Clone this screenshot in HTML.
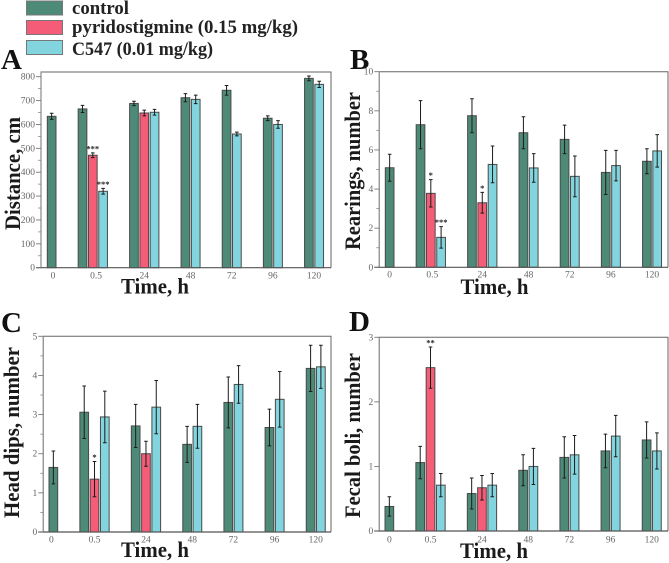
<!DOCTYPE html>
<html lang="en">
<head>
<meta charset="utf-8">
<title>Behavioural measures over time</title>
<style>
html,body{margin:0;padding:0;background:#fff;}
body{width:669px;height:563px;overflow:hidden;}
svg{display:block;}
text{font-family:"Liberation Serif",serif;}
.tick-label{font-size:9.5px;fill:#666;}
.axis-title{font-size:22.5px;font-weight:bold;fill:#1a1a1a;}
.panel-letter{font-size:29px;font-weight:bold;fill:#111;}
.legend-label{font-size:18.5px;font-weight:bold;fill:#222;}
.star{font-size:8.5px;font-weight:bold;fill:#222;}
</style>
</head>
<body>
<svg id="figure" xmlns="http://www.w3.org/2000/svg" width="669" height="563" viewBox="0 0 669 563">
  <g>
    <rect x="26.5" y="1" width="36" height="14" fill="#4e8a78" stroke="#777" stroke-width="1"/>
    <text class="legend-label" x="72" y="14" textLength="57" lengthAdjust="spacingAndGlyphs">control</text>
    <rect x="26.5" y="20.5" width="36" height="14" fill="#f45c77" stroke="#777" stroke-width="1"/>
    <text class="legend-label" x="72" y="33" textLength="226" lengthAdjust="spacingAndGlyphs">pyridostigmine (0.15 mg/kg)</text>
    <rect x="26.5" y="40.5" width="36" height="14" fill="#82d5de" stroke="#777" stroke-width="1"/>
    <text class="legend-label" x="72" y="55" textLength="141" lengthAdjust="spacingAndGlyphs">C547 (0.01 mg/kg)</text>
  </g>
</svg>
<script>
const categories = ["0", "0.5", "24", "48", "72", "96", "120"];

const distanceTicks = [0, 100, 200, 300, 400, 500, 600, 700, 800];
const distanceControl = [634, 665, 688, 712, 743, 626, 793];
const distanceControlErr = [13, 15, 9, 17, 20, 10, 10];
const distancePyridostigmine = [null, 471, 648, null, null, null, null];
const distancePyridostigmineErr = [null, 10, 12, null, null, null, null];
const distanceC547 = [null, 320, 651, 705, 560, 600, 768];
const distanceC547Err = [null, 12, 12, 18, 8, 16, 13];
const distancePyridostigmineStars = ["", "***", "", "", "", "", ""];
const distanceC547Stars = ["", "***", "", "", "", "", ""];

const rearingsTicks = [0, 2, 4, 6, 8, 10];
const rearingsControl = [5.09, 7.29, 7.75, 6.88, 6.54, 4.85, 5.42];
const rearingsControlErr = [0.69, 1.23, 0.87, 0.82, 0.73, 1.13, 0.64];
const rearingsPyridostigmine = [null, 3.78, 3.3, null, null, null, null];
const rearingsPyridostigmineErr = [null, 0.7, 0.53, null, null, null, null];
const rearingsC547 = [null, 1.53, 5.26, 5.08, 4.65, 5.2, 5.95];
const rearingsC547Err = [null, 0.55, 0.94, 0.73, 1.04, 0.78, 0.83];
const rearingsPyridostigmineStars = ["", "*", "*", "", "", "", ""];
const rearingsC547Stars = ["", "***", "", "", "", "", ""];

const headDipsTicks = [0, 1, 2, 3, 4, 5];
const headDipsControl = [1.65, 3.06, 2.71, 2.24, 3.31, 2.67, 4.18];
const headDipsControlErr = [0.42, 0.67, 0.55, 0.46, 0.65, 0.47, 0.59];
const headDipsPyridostigmine = [null, 1.35, 2.0, null, null, null, null];
const headDipsPyridostigmineErr = [null, 0.45, 0.32, null, null, null, null];
const headDipsC547 = [null, 2.94, 3.19, 2.7, 3.77, 3.39, 4.22];
const headDipsC547Err = [null, 0.66, 0.68, 0.56, 0.48, 0.71, 0.55];
const headDipsPyridostigmineStars = ["", "*", "", "", "", "", ""];
const headDipsC547Stars = ["", "", "", "", "", "", ""];

const fecalBoliTicks = [0, 1, 2, 3];
const fecalBoliControl = [0.38, 1.06, 0.58, 0.94, 1.14, 1.24, 1.41];
const fecalBoliControlErr = [0.15, 0.25, 0.24, 0.24, 0.32, 0.26, 0.28];
const fecalBoliPyridostigmine = [null, 2.53, 0.67, null, null, null, null];
const fecalBoliPyridostigmineErr = [null, 0.32, 0.19, null, null, null, null];
const fecalBoliC547 = [null, 0.71, 0.71, 1.0, 1.18, 1.47, 1.24];
const fecalBoliC547Err = [null, 0.18, 0.18, 0.28, 0.3, 0.32, 0.28];
const fecalBoliPyridostigmineStars = ["", "**", "", "", "", "", ""];
const fecalBoliC547Stars = ["", "", "", "", "", "", ""];

const SVG_NS = "http://www.w3.org/2000/svg";
const figure = document.getElementById("figure");
const SLOT = 10.29;
const BAR_W = 8.7;
const COLORS = { control: "#4e8a78", pyridostigmine: "#f45c77", c547: "#82d5de" };

function make(tag, parent, attrs, content) {
  const el = document.createElementNS(SVG_NS, tag);
  for (const k in attrs) el.setAttribute(k, attrs[k]);
  if (content !== undefined) el.textContent = content;
  parent.appendChild(el);
  return el;
}

function labelNudge(key, i) {
  if (key === "distance" && i === 0) return 1.3;
  if (key === "distance" && i === 1) return 3.3;
  if (key === "head-dips" && i === 0) return -2;
  if (key === "rearings" && i === 1) return 1.5;
  return 0;
}

function drawPanel(p) {
  const g = make("g", figure, {});
  
  

  const maxV = p.ticks[p.ticks.length - 1];
  const yScale = function (v) { return p.y0 - (v / maxV) * (p.y0 - p.yMaxPx); };

  let slot = 0;
  categories.forEach(function (cat, i) {
    const present = p.series.filter(function (s) { return s.values[i] !== null; });
    present.forEach(function (s, j) {
      const x = p.originX + (slot + j) * SLOT;
      const cx = x + BAR_W / 2;
      const top = yScale(s.values[i]);
      const bar = make("rect", g, { x: x, y: top, width: BAR_W, height: p.y0 - top, fill: COLORS[s.kind], stroke: "#4a4a4a", "stroke-width": 1 });
      
      

      const hi = yScale(s.values[i] + s.err[i]);
      const lo = yScale(s.values[i] - s.err[i]);
      const eb = make("path", g, { d: "M" + (cx - 1.8) + " " + hi + "H" + (cx + 1.8) + "M" + cx + " " + hi + "V" + lo + "M" + (cx - 1.8) + " " + lo + "H" + (cx + 1.8), fill: "none", stroke: "#1c1c1c", "stroke-width": 1 });
      
      

      if (s.stars[i]) {
        const st = make("text", g, { x: cx, y: hi - 1.5, "text-anchor": "middle", "class": "star" }, s.stars[i]);
        
        
      }
    });
    const groupCenter = p.originX + (slot + present.length / 2) * SLOT - (SLOT - BAR_W) / 2;
    const lab = make("text", g, { x: groupCenter + labelNudge(p.key, i), y: p.xLabelY, "text-anchor": "middle", "class": "tick-label" }, cat);
    
    
    slot += present.length + 2;
  });

  const frame = make("path", g, { d: "M" + p.left + " " + p.y0 + "V" + p.top + "H" + p.right + "V" + p.y0, fill: "none", stroke: "#666", "stroke-width": 1 });
  
  
  const leftAxis = make("line", g, { x1: p.left, x2: p.left, y1: p.top, y2: p.y0, stroke: "#999", "stroke-width": 1.4 });
  
  
  const baseAxis = make("line", g, { x1: p.left - 5, x2: p.right, y1: p.y0, y2: p.y0, stroke: "#555", "stroke-width": 1.2 });
  
  

  p.ticks.forEach(function (t, i) {
    const y = yScale(t);
    const tk = make("line", g, { x1: p.left - 5, x2: p.left, y1: y, y2: y, stroke: "#777", "stroke-width": 0.9 });
    
    
    const tl = make("text", g, { x: p.left - 6, y: y + 3, "text-anchor": "end", "class": "tick-label" }, String(t));
    
    
    if (p.minor && i < p.ticks.length - 1) {
      const my = yScale((t + p.ticks[i + 1]) / 2);
      const mk = make("line", g, { x1: p.left - 3, x2: p.left, y1: my, y2: my, stroke: "#888", "stroke-width": 0.8 });
      
      
    }
  });

  const xt = make("text", g, { x: p.xTitleX, y: p.xTitleY, "text-anchor": "middle", "class": "axis-title", textLength: 68, lengthAdjust: "spacingAndGlyphs" }, "Time, h");
  
  

  const yt = make("text", g, { transform: "translate(" + p.yTitleX + " " + p.yTitleBottom + ") rotate(-90)", "class": "axis-title", textLength: p.yTitleLen, lengthAdjust: "spacingAndGlyphs" }, p.yTitle);
  
  

  const letter = make("text", g, { x: p.letterX, y: p.letterY, "class": "panel-letter" }, p.letter);
  
  
}

drawPanel({
  key: "distance", letter: "A", letterX: 1, letterY: 69,
  left: 41, right: 331, top: 72, y0: 267.7, yMaxPx: 76.7, originX: 47.3, minor: true, xLabelY: 278.5,
  ticks: distanceTicks, yTitle: "Distance, cm", yTitleX: 20, yTitleBottom: 230, yTitleLen: 113,
  xTitleX: 155, xTitleY: 293.5,
  series: [
    { kind: "control", values: distanceControl, err: distanceControlErr, stars: categories.map(function () { return ""; }) },
    { kind: "pyridostigmine", values: distancePyridostigmine, err: distancePyridostigmineErr, stars: distancePyridostigmineStars },
    { kind: "c547", values: distanceC547, err: distanceC547Err, stars: distanceC547Stars }
  ]
});
drawPanel({
  key: "rearings", letter: "B", letterX: 350, letterY: 69,
  left: 379.3, right: 668, top: 71.7, y0: 267.3, yMaxPx: 71.7, originX: 385.3, minor: true, xLabelY: 277.5,
  ticks: rearingsTicks, yTitle: "Rearings, number", yTitleX: 360, yTitleBottom: 250, yTitleLen: 158,
  xTitleX: 494.5, xTitleY: 294,
  series: [
    { kind: "control", values: rearingsControl, err: rearingsControlErr, stars: categories.map(function () { return ""; }) },
    { kind: "pyridostigmine", values: rearingsPyridostigmine, err: rearingsPyridostigmineErr, stars: rearingsPyridostigmineStars },
    { kind: "c547", values: rearingsC547, err: rearingsC547Err, stars: rearingsC547Stars }
  ]
});
drawPanel({
  key: "head-dips", letter: "C", letterX: 1, letterY: 332,
  left: 43.3, right: 331, top: 336.3, y0: 532, yMaxPx: 336.3, originX: 49, minor: true, xLabelY: 542.5,
  ticks: headDipsTicks, yTitle: "Head dips, number", yTitleX: 19, yTitleBottom: 518, yTitleLen: 171,
  xTitleX: 155, xTitleY: 557,
  series: [
    { kind: "control", values: headDipsControl, err: headDipsControlErr, stars: categories.map(function () { return ""; }) },
    { kind: "pyridostigmine", values: headDipsPyridostigmine, err: headDipsPyridostigmineErr, stars: headDipsPyridostigmineStars },
    { kind: "c547", values: headDipsC547, err: headDipsC547Err, stars: headDipsC547Stars }
  ]
});
drawPanel({
  key: "fecal-boli", letter: "D", letterX: 349, letterY: 331,
  left: 379.3, right: 668, top: 337.3, y0: 531, yMaxPx: 337.3, originX: 385, minor: false, xLabelY: 542.5,
  ticks: fecalBoliTicks, yTitle: "Fecal boli, number", yTitleX: 360, yTitleBottom: 518, yTitleLen: 165,
  xTitleX: 494, xTitleY: 558,
  series: [
    { kind: "control", values: fecalBoliControl, err: fecalBoliControlErr, stars: categories.map(function () { return ""; }) },
    { kind: "pyridostigmine", values: fecalBoliPyridostigmine, err: fecalBoliPyridostigmineErr, stars: fecalBoliPyridostigmineStars },
    { kind: "c547", values: fecalBoliC547, err: fecalBoliC547Err, stars: fecalBoliC547Stars }
  ]
});
</script>
</body>
</html>
